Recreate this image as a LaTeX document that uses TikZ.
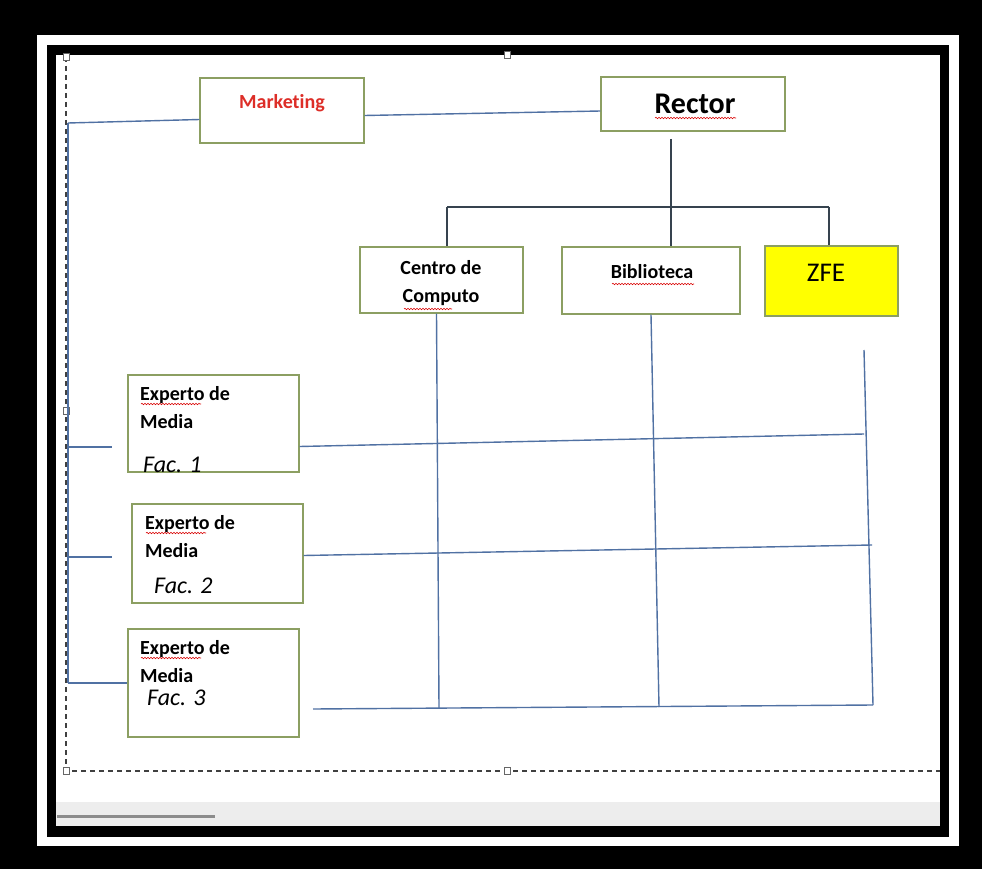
\documentclass[tikz,border=0pt]{standalone}
\usepackage{fontspec}
\setmainfont{Carlito}[Ligatures=NoCommon]
\usetikzlibrary{decorations.pathmorphing}
\definecolor{boxline}{HTML}{8C9F62}
\definecolor{wire}{HTML}{5071A3}
\definecolor{treeline}{HTML}{36434F}
\definecolor{mktred}{HTML}{DD2E28}
\definecolor{zfeyellow}{HTML}{FFFF00}
\definecolor{pagegrey}{HTML}{EDEDED}
\tikzset{
  box/.style={rectangle,draw=boxline,line width=1.1pt,fill=white,inner sep=0pt},
  lbl/.style={inner sep=0pt,font=\fontsize{20}{28}\selectfont\bfseries},
  fac/.style={inner sep=0pt,anchor=west,font=\fontsize{24}{28}\selectfont\itshape},
  squiggle/.style={draw=red!85!black,line width=0.6pt,decorate,
    decoration={snake,amplitude=0.7pt,segment length=3pt}},
  handle/.style={draw=black!60,fill=white,line width=0.7pt}
}
\begin{document}
\begin{tikzpicture}[x=1pt,y=-1pt]
        \useasboundingbox (0,0) rectangle (982,869);
        \fill[black] (0,0) rectangle (982,869);
        \fill[white] (37,35) rectangle (959,846);
        \fill[black] (47,45) rectangle (949,837);
        \fill[white] (56,55) rectangle (940,826);
        \fill[pagegrey] (56,802) rectangle (940,826);
        \draw[black!45,line width=3pt] (57,816) -- (215,816);
        \draw[black!75,line width=1.3pt,dash pattern=on 5pt off 4pt] (66,57) -- (66,771) -- (940,771);
        \foreach \hx/\hy in {66/57,507/55,66/411,66/771,507/771}
          \draw[handle] (\hx-3,\hy-3.5) rectangle (\hx+3,\hy+3.5);

        \begin{scope}[every node/.style={box}]
          \node (mkt) at (282,110.5) [minimum width=164,minimum height=65] {};
          \node (rec) at (693,104) [minimum width=184,minimum height=54] {};
          \node (cc) at (441.5,280) [minimum width=163,minimum height=66] {};
          \node (bib) at (651,280.5) [minimum width=178,minimum height=67] {};
          \node (zfe) at (831.5,281) [minimum width=133,minimum height=70,fill=zfeyellow] {};
          \node (exp1) at (213.5,423.5) [minimum width=171,minimum height=97] {};
          \node (exp2) at (217.5,553.5) [minimum width=171,minimum height=99] {};
          \node (exp3) at (213.5,683) [minimum width=171,minimum height=108] {};
        \end{scope}

        \begin{scope}[every node/.style={lbl}]
          \node[text=mktred] (mkttxt) at (282,103) {Marketing};
          \node[font=\fontsize{30}{34}\selectfont\bfseries] (rectxt) at (695,104) {Rector};
          \node[align=center] (cctxt) at (441,283) {Centro de\\Computo};
          \node (bibtxt) at (652,272) {Biblioteca};
          \node[font=\fontsize{27}{30}\selectfont] (zfetxt) at (826,273) {ZFE};
          \node[anchor=west,align=left] (exp1txt) at (140,408) {Experto de\\Media};
          \node[anchor=west,align=left] (exp2txt) at (145,537) {Experto de\\Media};
          \node[anchor=west,align=left] (exp3txt) at (140,662) {Experto de\\Media};
          \node[fac] (fac1) at (143,465) {Fac. 1};
          \node[fac] (fac2) at (154,586) {Fac. 2};
          \node[fac] (fac3) at (147,698) {Fac. 3};
        \end{scope}

        \path[squiggle] (655,118) -- (736,118);
        \path[squiggle] (612,284) -- (694,284);
        \path[squiggle] (404,309) -- (452,309);
        \path[squiggle] (141,404) -- (201,404);
        \path[squiggle] (146,533) -- (206,533);
        \path[squiggle] (141,658) -- (201,658);

        \coordinate (lt) at (68,123);
        \coordinate (lb) at (68,683);
        \coordinate (s1) at (112,447);
        \coordinate (s2) at (112,557);
        \coordinate (rdown) at (671,139);
        \coordinate (bl) at (447,207);
        \coordinate (br) at (829,207);
        \coordinate (c1b) at (439,708);
        \coordinate (c2b) at (659,707);
        \coordinate (c3t) at (864,350);
        \coordinate (c3b) at (873,705);
        \coordinate (r1e) at (864,434);
        \coordinate (r2e) at (872,545);
        \coordinate (r3s) at (313,709);

        \begin{scope}[every edge/.style={draw=wire,line width=1.4pt}]
          \path (lt) edge (lb);
          \path (lt) edge ([yshift=-9pt]mkt.west);
          \path ([yshift=-5pt]mkt.east) edge ([yshift=-7pt]rec.west);
          \path (s1 -| lt) edge (s1);
          \path (s2 -| lt) edge (s2);
          \path (lb) edge (exp3.west);
          \path ([xshift=-5pt]cc.south) edge (c1b);
          \path (bib.south) edge (c2b);
          \path (c3t) edge (c3b);
          \path ([yshift=-23pt]exp1.east) edge (r1e);
          \path ([yshift=-2pt]exp2.east) edge (r2e);
          \path (r3s) edge (c3b);
        \end{scope}

        \begin{scope}[every edge/.style={draw=treeline,line width=1.4pt}]
          \path (rdown) edge (rdown |- bib.north);
          \path (bl) edge (br);
          \path (bl) edge (bl |- cc.north);
          \path (br) edge (br |- zfe.north);
        \end{scope}
\end{tikzpicture}
\end{document}
